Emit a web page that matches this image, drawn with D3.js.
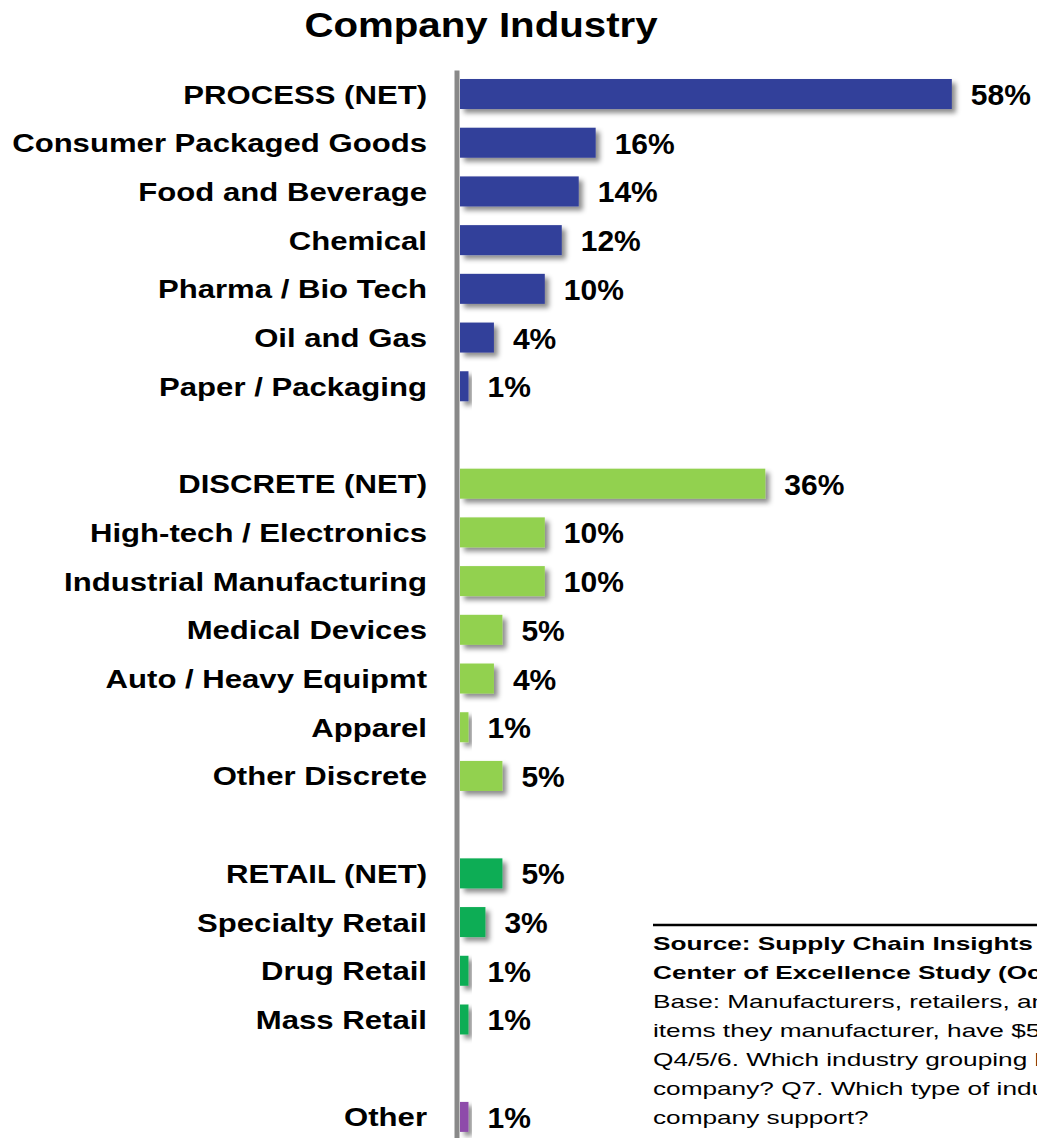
<!DOCTYPE html>
<meta charset="utf-8">
<style>
body { margin: 0; background: #fff; }
text { font-family: "Liberation Sans", Arial, sans-serif; fill: #000; }
.cat { font-size: 25.5px; font-weight: bold; }
.val { font-size: 30px; font-weight: bold; }
.title { font-size: 35px; font-weight: bold; }
.src { font-size: 19px; }
</style>
<body>
<script src="https://d3js.org/d3.v7.min.js"></script>
<script>

// chart values
var processLabels = ["PROCESS (NET)", "Consumer Packaged Goods", "Food and Beverage", "Chemical",
                     "Pharma / Bio Tech", "Oil and Gas", "Paper / Packaging"];
var processValues = [58, 16, 14, 12, 10, 4, 1];

var discreteLabels = ["DISCRETE (NET)", "High-tech / Electronics", "Industrial Manufacturing",
                      "Medical Devices", "Auto / Heavy Equipmt", "Apparel", "Other Discrete"];
var discreteValues = [36, 10, 10, 5, 4, 1, 5];

var retailLabels = ["RETAIL (NET)", "Specialty Retail", "Drug Retail", "Mass Retail"];
var retailValues = [5, 3, 1, 1];

var otherLabels = ["Other"];
var otherValues = [1];

var groupColors = ["#333f9a", "#92d14f", "#10ad55", "#8e4caa"];

// source note, as far as it is visible (the picture cuts it at the right edge)
var sourceBold = ["Source:  Supply Chain Insights",
                  "Center of Excellence Study (Oc"];
var sourceText = ["Base: Manufacturers, retailers, an",
                  "items they manufacturer, have $5",
                  "Q4/5/6. Which industry grouping b",
                  "company? Q7. Which type of indu",
                  "company support?"];

var width = 1037, height = 1138;

// build rows, with a blank row between groups
var groups = [[processLabels, processValues], [discreteLabels, discreteValues],
              [retailLabels, retailValues], [otherLabels, otherValues]];
var rows = [], domain = [];
groups.forEach(function(g, gi) {
  if (gi > 0) domain.push("gap" + gi);
  g[0].forEach(function(label, i) {
    rows.push({label: label, value: g[1][i], group: gi});
    domain.push(label);
  });
});

var step = 48.71;
var y = d3.scaleBand()
    .domain(domain)
    .range([94 - step / 2, 94 - step / 2 + step * domain.length])
    .paddingInner(0.384)
    .paddingOuter(0.192);

var x = d3.scaleLinear()
    .domain([0, 100])
    .range([460, 460 + 848]);

var svg = d3.select("body").append("svg")
    .attr("width", width)
    .attr("height", height);

var defs = svg.append("defs");
var f = defs.append("filter").attr("id", "shadow")
    .attr("x", "-20%").attr("y", "-40%").attr("width", "160%").attr("height", "200%");
f.append("feDropShadow")
    .attr("dx", 4).attr("dy", 4).attr("stdDeviation", 2.5)
    .attr("flood-color", "#000").attr("flood-opacity", 0.45);

// title
svg.append("text")
    .attr("class", "title")
    .attr("text-anchor", "middle")
    .attr("transform", "translate(481,37) scale(1.15,1)")
    .text("Company Industry");

// bars
svg.selectAll(".bar")
    .data(rows)
  .enter().append("rect")
    .attr("class", "bar")
    .attr("x", x(0))
    .attr("y", function(d) { return y(d.label); })
    .attr("width", function(d) { return x(d.value) - x(0); })
    .attr("height", y.bandwidth())
    .attr("fill", function(d) { return groupColors[d.group]; })
    .attr("filter", "url(#shadow)");

// category labels
svg.selectAll(".cat")
    .data(rows)
  .enter().append("text")
    .attr("class", "cat")
    .attr("text-anchor", "end")
    .attr("transform", function(d) {
      return "translate(427," + (y(d.label) + y.bandwidth() / 2 + 9.5) + ") scale(1.22,1)";
    })
    .text(function(d) { return d.label; });

// value labels
svg.selectAll(".val")
    .data(rows)
  .enter().append("text")
    .attr("class", "val")
    .attr("x", function(d) { return x(d.value) + 19; })
    .attr("y", function(d) { return y(d.label) + y.bandwidth() / 2 + 11; })
    .text(function(d) { return d.value + "%"; });

// vertical axis line
var yAxis = d3.axisLeft(d3.scaleLinear().range([70, height])).ticks(0).tickSize(0).tickSizeOuter(0);
svg.append("g")
    .attr("class", "y axis")
    .attr("transform", "translate(456.5,0)")
    .call(yAxis)
    .call(function(g) {
      g.select(".domain").attr("stroke", "#898989").attr("stroke-width", 5);
      g.selectAll(".tick").remove();
    });

// source note
svg.append("line")
    .attr("x1", 653).attr("x2", width)
    .attr("y1", 925).attr("y2", 925)
    .attr("stroke", "#000").attr("stroke-width", 2.5);

var src = svg.append("g").attr("transform", "translate(653,0)");
sourceBold.concat(sourceText).forEach(function(t, i) {
  src.append("text")
      .attr("class", "src")
      .attr("font-weight", i < sourceBold.length ? "bold" : "normal")
      .attr("transform", "translate(0," + (950 + i * 29) + ") scale(1.38,1)")
      .text(t);
});

</script>
</body>
